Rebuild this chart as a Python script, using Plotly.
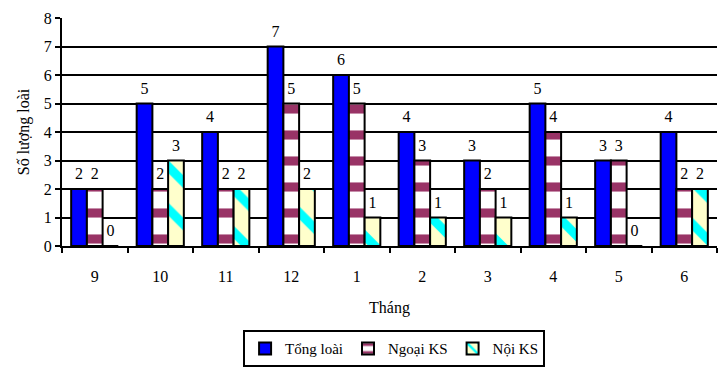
import plotly.graph_objects as go

months = ["9", "10", "11", "12", "1", "2", "3", "4", "5", "6"]
tong_loai = [2, 5, 4, 7, 6, 4, 3, 5, 3, 4]
ngoai_ks = [2, 2, 2, 5, 5, 3, 2, 4, 3, 2]
noi_ks = [0, 3, 2, 2, 1, 1, 1, 1, 0, 2]

FONT = "Liberation Serif"
GAP = 0.28

series = [
    ("Tổng loài", tong_loai,
     dict(color="#0000FF", line=dict(color="black", width=2))),
    ("Ngoại KS", ngoai_ks,
     dict(color="white", line=dict(color="black", width=2),
          pattern=dict(shape="-", fgcolor="#993366", bgcolor="white",
                       size=26, solidity=0.35, fillmode="replace"))),
    ("Nội KS", noi_ks,
     dict(color="#FFFFCC", line=dict(color="black", width=2),
          pattern=dict(shape="\\", fgcolor="#00FFFF", bgcolor="#FFFFCC",
                       size=30, solidity=0.3, fillmode="replace"))),
]

fig = go.Figure()
for name, vals, marker in series:
    fig.add_trace(go.Bar(x=months, y=vals, name=name, marker=marker, hoverinfo="x+y+name"))
for name, vals, marker in series:
    fig.add_trace(go.Scatter(
        x=months, y=vals, mode="markers+text", text=[str(v) for v in vals],
        textposition="top center", showlegend=False, hoverinfo="skip",
        marker=dict(size=8, opacity=0), cliponaxis=False,
        textfont=dict(family=FONT, size=16, color="black"),
    ))

fig.update_layout(
    width=723, height=370,
    margin=dict(l=62, r=6, t=18, b=124, autoexpand=False),
    paper_bgcolor="white", plot_bgcolor="white",
    barmode="group", bargap=GAP, bargroupgap=0,
    scattermode="group", scattergap=GAP,
    font=dict(family=FONT, size=16, color="black"),
    showlegend=True,
    legend=dict(orientation="h", x=0.507, xanchor="center", y=-0.532, yanchor="bottom",
                bordercolor="black", borderwidth=2, font=dict(family=FONT, size=15),
                itemwidth=30, tracegroupgap=0),
    xaxis=dict(type="category", showline=True, linecolor="black", linewidth=2,
               ticks="outside", tickson="boundaries", ticklen=5, tickwidth=2, tickcolor="black",
               ticklabelstandoff=15,
               title=dict(text="Tháng", font=dict(family=FONT, size=16), standoff=18),
               tickfont=dict(family=FONT, size=16), showgrid=False),
    yaxis=dict(range=[0, 8], dtick=1, showline=True, linecolor="black", linewidth=2,
               ticks="outside", ticklen=5, tickwidth=2, tickcolor="black",
               showgrid=True, gridcolor="black", gridwidth=1.5, zeroline=False,
               title=dict(text="Số lượng loài", font=dict(family=FONT, size=16), standoff=10),
               tickfont=dict(family=FONT, size=16)),
)

fig.write_html("out.html")
